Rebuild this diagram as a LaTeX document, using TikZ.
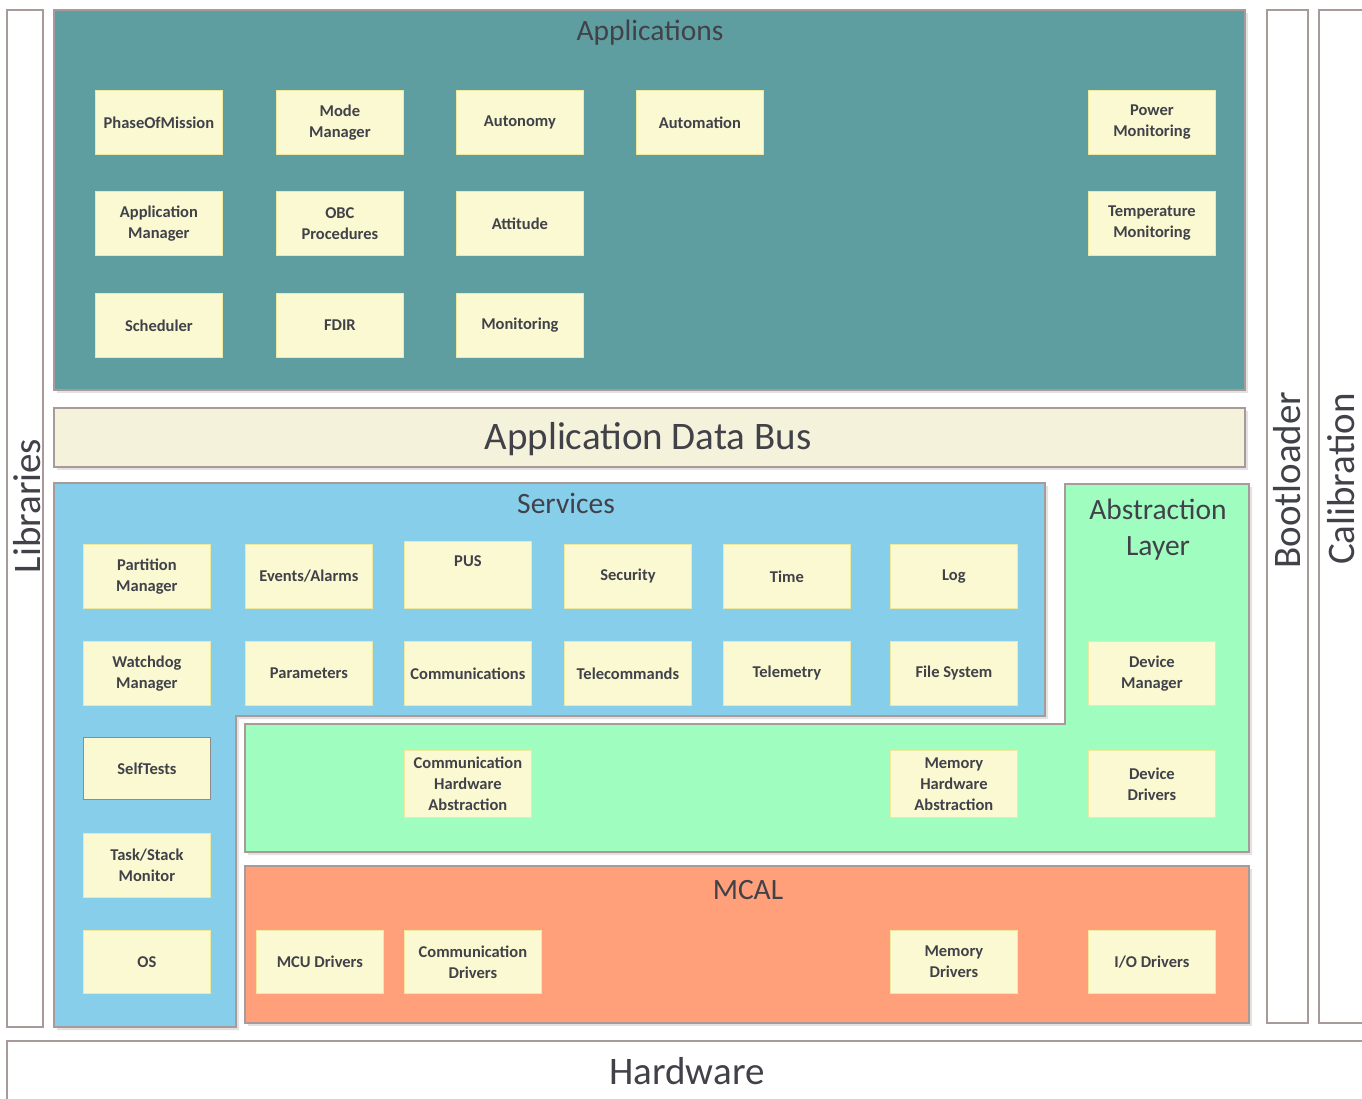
\documentclass[tikz,border=0pt]{standalone}
\usepackage{fontspec}
\setmainfont{Carlito}
\usetikzlibrary{shadows}
\definecolor{teal1}{HTML}{5F9EA0}
\definecolor{busfill}{HTML}{F4F2DA}
\definecolor{svcblue}{HTML}{87CEEB}
\definecolor{absgreen}{HTML}{A0FDC0}
\definecolor{mcalsal}{HTML}{FFA07A}
\definecolor{boxyel}{HTML}{FAF9D2}
\definecolor{boxedge}{HTML}{EFE9A0}
\definecolor{outline}{HTML}{A99A9A}
\definecolor{txt}{HTML}{414249}
\tikzset{
  frame/.style={draw=outline, line width=1.4pt},
  shad/.style={drop shadow={shadow xshift=3pt, shadow yshift=-3pt, fill=black!22}},
  blk/.style={fill=boxyel, draw=boxedge, line width=0.8pt, minimum width=127pt, minimum height=64pt,
    inner sep=0pt, align=center, text=txt, anchor=north west,
    font=\fontsize{16.5}{21}\selectfont\bfseries},
  ttl/.style={text=txt, font=\fontsize{29.5}{36}\selectfont, align=center},
  big/.style={text=txt, font=\fontsize{39}{44}\selectfont}
}
\begin{document}
\begin{tikzpicture}[x=1pt,y=-1pt]
\useasboundingbox (0,0) rectangle (1362,1099);
\fill[white] (0,0) rectangle (1362,1099);
% side and bottom frames
\draw[frame, fill=white] (7,10) rectangle (43,1027);
\node[big, rotate=90] (libt) at (27,506) {Libraries};
\draw[frame, fill=white] (1267,10) rectangle (1308,1023);
\node[big, rotate=90] (boott) at (1287,480) {Bootloader};
\draw[frame, fill=white] (1319,10) rectangle (1375,1023);
\node[big, rotate=90] (calt) at (1341,479) {Calibration};
\draw[frame, fill=white] (7,1041) rectangle (1380,1110);
\node[big] (hwt) at (687,1071) {Hardware};
% applications
\draw[frame, fill=teal1, shad] (54,10) rectangle (1245,390);
\node[ttl] (appt) at (650,33) {Applications};
% data bus
\draw[frame, fill=busfill, shad] (54,408) rectangle (1245,467);
\node[big] (bust) at (648,439) {Application Data Bus};
% services L shape
\draw[frame, fill=svcblue, shad] (54,483) -- (1045,483) -- (1045,716) -- (236,716) -- (236,1027) -- (54,1027) -- cycle;
\node[ttl] (svct) at (566,503) {Services};
% abstraction layer
\draw[frame, fill=absgreen, shad] (1065,484) -- (1249,484) -- (1249,852) -- (245,852) -- (245,724) -- (1065,724) -- cycle;
\node[ttl] (abst) at (1158,530) {Abstraction\\Layer};
% MCAL
\draw[frame, fill=mcalsal, shad] (245,866) rectangle (1249,1023);
\node[ttl] (mcalt) at (748,890) {MCAL};
% application boxes
\node[blk] (pom) at (95,90) {PhaseOfMission};
\node[blk] (modem) at (276,90) {Mode\\Manager};
\node[blk] (auton) at (456,90) {Autonomy};
\node[blk] (autom) at (636,90) {Automation};
\node[blk] (powm) at (1088,90) {Power\\Monitoring};
\node[blk] (appm) at (95,191) {Application\\Manager};
\node[blk] (obc) at (276,191) {OBC\\Procedures};
\node[blk] (att) at (456,191) {Attitude};
\node[blk] (tempm) at (1088,191) {Temperature\\Monitoring};
\node[blk] (sched) at (95,293) {Scheduler};
\node[blk] (fdir) at (276,293) {FDIR};
\node[blk] (mon) at (456,293) {Monitoring};
% services boxes
\node[blk] (partm) at (83,544) {Partition\\Manager};
\node[blk] (evt) at (245,544) {Events/Alarms};
\node[blk, minimum height=67pt] (pus) at (404,541) {PUS\\[6pt]};
\node[blk] (sec) at (564,544) {Security};
\node[blk] (time) at (723,544) {Time};
\node[blk] (log) at (890,544) {Log};
\node[blk] (wdm) at (83,641) {Watchdog\\Manager};
\node[blk] (par) at (245,641) {Parameters};
\node[blk] (comm) at (404,641) {Communications};
\node[blk] (tc) at (564,641) {Telecommands};
\node[blk] (tm) at (723,641) {Telemetry};
\node[blk] (fs) at (890,641) {File System};
\node[blk] (devm) at (1088,641) {Device\\Manager};
\node[blk, draw=black!45, line width=1pt, minimum height=62pt] (self) at (83,737) {SelfTests};
\node[blk] (task) at (83,833) {Task/Stack\\Monitor};
\node[blk, minimum height=63pt] (os) at (83,930) {OS};
% abstraction boxes
\node[blk, minimum height=67pt] (cha) at (404,750) {Communication\\Hardware\\Abstraction};
\node[blk, minimum height=67pt] (mha) at (890,750) {Memory\\Hardware\\Abstraction};
\node[blk, minimum height=67pt] (devd) at (1088,750) {Device\\Drivers};
% mcal boxes
\node[blk, minimum height=63pt] (mcu) at (256,930) {MCU Drivers};
\node[blk, minimum width=137pt, minimum height=63pt] (comd) at (404,930) {Communication\\Drivers};
\node[blk, minimum height=63pt] (memd) at (890,930) {Memory\\Drivers};
\node[blk, minimum height=63pt] (iod) at (1088,930) {I/O Drivers};
\end{tikzpicture}
\end{document}
